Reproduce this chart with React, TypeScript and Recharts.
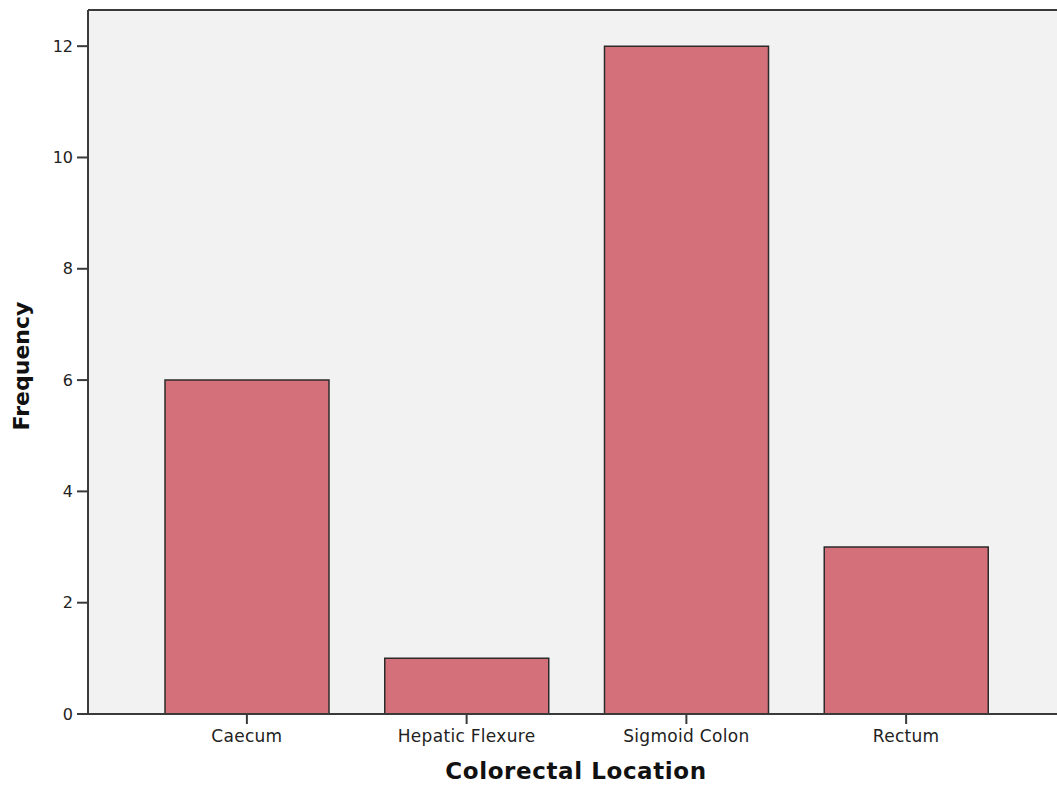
import React from "react";
import { BarChart, Bar, XAxis, YAxis, CartesianGrid, ReferenceLine, Label } from "recharts";

const categories = ["Caecum", "Hepatic Flexure", "Sigmoid Colon", "Rectum"];
const frequencies = [6, 1, 12, 3];
const yTicks = [0, 2, 4, 6, 8, 10, 12];
const yMax = 12.65;

const data = categories.map((c, i) => ({ name: c, value: frequencies[i] }));

const FONT = "'DejaVu Sans', sans-serif";
const AXIS = "#3a3a3a";

export default function App() {
  return (
    <div style={{ position: "absolute", left: 0, top: 0, width: 1057, height: 787, overflow: "hidden", background: "#fff" }}>
      <BarChart
        width={1066}
        height={787}
        data={data}
        margin={{ top: 10, right: 2, left: 0, bottom: 0 }}
      >
        <CartesianGrid fill="#F2F2F2" horizontal={false} vertical={false} />
        <XAxis
          dataKey="name"
          height={73}
          padding={{ left: 49, right: 48 }}
          axisLine={{ stroke: AXIS, strokeWidth: 2 }}
          tickLine={{ stroke: AXIS, strokeWidth: 2 }}
          tickSize={10}
          tickMargin={6}
          tick={{ fill: "#222", fontSize: 17, fontFamily: FONT, letterSpacing: 0.3 }}
        >
          <Label
            value="Colorectal Location"
            position="insideBottom"
            offset={8}
            style={{ fontSize: 23, fontWeight: "bold", fontFamily: FONT, fill: "#111", letterSpacing: 0.6 }}
          />
        </XAxis>
        <YAxis
          width={88}
          domain={[0, yMax]}
          ticks={yTicks}
          allowDataOverflow
          axisLine={{ stroke: AXIS, strokeWidth: 2 }}
          tickLine={{ stroke: AXIS, strokeWidth: 2 }}
          tickSize={11}
          tickMargin={4}
          tick={{ fill: "#222", fontSize: 16, fontFamily: FONT }}
        >
          <Label
            content={() => (
              <text
                x={29}
                y={366}
                transform="rotate(-90 29 366)"
                textAnchor="middle"
                style={{ fontSize: 22, fontWeight: "bold", fontFamily: FONT, fill: "#111" }}
              >
                Frequency
              </text>
            )}
          />
        </YAxis>
        <ReferenceLine y={yMax} stroke={AXIS} strokeWidth={2} />
        <Bar
          dataKey="value"
          fill="#D4707A"
          stroke="#2b2b2b"
          strokeWidth={1.5}
          barSize={164}
          isAnimationActive={false}
        />
      </BarChart>
    </div>
  );
}
